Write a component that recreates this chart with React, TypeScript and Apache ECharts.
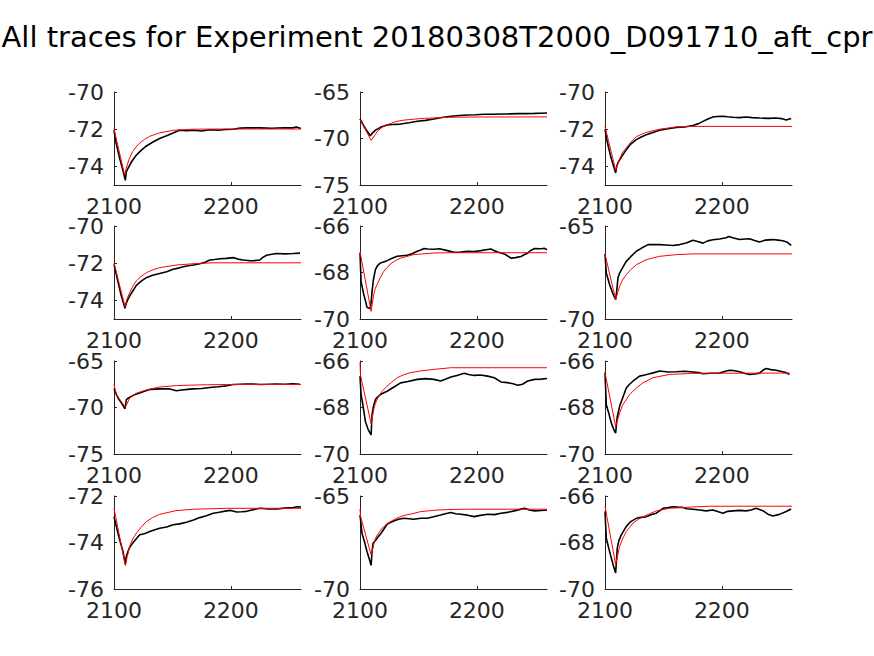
import React, { useEffect, useRef } from "react";
import * as echarts from "echarts";

const TITLE = "All traces for Experiment 20180308T2000_D091710_aft_cpr";
const X_MIN = 2100;
const X_MAX = 2260;
const X_TICKS = [2100, 2200];

const yRanges: [number, number][] = [
  [-75, -70], [-75, -65], [-75, -70],
  [-75, -70], [-70, -66], [-70, -65],
  [-75, -65], [-70, -66], [-70, -66],
  [-76, -72], [-70, -65], [-70, -66],
];
const yTicks: number[][] = [
  [-74, -72, -70], [-75, -70, -65], [-74, -72, -70],
  [-74, -72, -70], [-70, -68, -66], [-70, -65],
  [-75, -70, -65], [-70, -68, -66], [-70, -68, -66],
  [-76, -74, -72], [-70, -65], [-70, -68, -66],
];

const black1 = [[2100,-72.05],[2102,-72.8],[2105,-73.6],[2108,-74.3],[2109.7,-74.75],[2110.5,-74.3],[2112,-74.1],[2115,-73.75],[2119,-73.4],[2123,-73.15],[2127.7,-72.9],[2133,-72.7],[2139,-72.5],[2145,-72.35],[2150.6,-72.2],[2156,-72.06],[2162,-72.08],[2168,-72.06],[2175,-72.1],[2182,-72.03],[2189,-72.06],[2196,-72.02],[2202,-72.0],[2208,-71.94],[2215,-71.92],[2225,-71.93],[2235,-71.95],[2245,-71.92],[2253,-71.93],[2256,-71.88],[2260,-71.96]];
const red1 = [[2100,-71.98],[2109,-74.45],[2110.5,-74.1],[2113,-73.6],[2116,-73.2],[2119,-72.95],[2122,-72.74],[2126,-72.55],[2130.6,-72.38],[2139,-72.2],[2150.6,-72.06],[2160,-72.02],[2168,-72.0],[2190,-71.99],[2260,-71.99]];

const black2 = [[2100,-67.9],[2103,-68.6],[2106,-69.2],[2108.9,-69.7],[2110,-69.5],[2113.2,-69.1],[2117.5,-68.8],[2123.2,-68.55],[2128,-68.5],[2134.7,-68.45],[2142,-68.3],[2149,-68.15],[2156,-68.05],[2163.3,-67.9],[2170,-67.75],[2177.7,-67.6],[2185,-67.52],[2192,-67.47],[2199,-67.44],[2206.3,-67.4],[2213,-67.4],[2220.6,-67.37],[2228,-67.35],[2235,-67.33],[2242,-67.32],[2249.3,-67.3],[2255,-67.28],[2260,-67.26]];
const red2 = [[2100,-67.95],[2109.5,-70.2],[2113,-69.6],[2115,-69.2],[2118,-68.9],[2121,-68.6],[2126,-68.4],[2130,-68.2],[2136,-68.05],[2141.5,-67.97],[2155,-67.83],[2177,-67.72],[2200,-67.69],[2260,-67.68]];

const black3 = [[2100,-72.0],[2102,-72.7],[2105,-73.5],[2109.1,-74.35],[2110,-74.0],[2111.1,-73.8],[2114,-73.5],[2118.2,-73.1],[2122,-72.8],[2126.8,-72.56],[2131,-72.42],[2135.3,-72.3],[2141,-72.18],[2146.7,-72.06],[2154,-71.98],[2161,-71.9],[2168,-71.88],[2175.2,-71.8],[2180,-71.7],[2183.8,-71.58],[2188,-71.45],[2192.3,-71.34],[2196,-71.32],[2200.9,-71.3],[2205,-71.33],[2209.4,-71.36],[2215,-71.38],[2220.8,-71.34],[2226,-71.38],[2232.2,-71.4],[2240,-71.42],[2246.4,-71.4],[2251,-71.43],[2255,-71.5],[2259.3,-71.42]];
const red3 = [[2100,-71.85],[2109.1,-74.2],[2112.5,-73.6],[2115,-73.25],[2118.2,-73.0],[2122,-72.7],[2126.8,-72.4],[2131,-72.28],[2135.3,-72.17],[2146.7,-72.0],[2161,-71.88],[2175.2,-71.85],[2260,-71.85]];

const black4 = [[2100,-72.06],[2103,-72.9],[2106,-73.7],[2109.4,-74.43],[2110.5,-74.15],[2112,-73.93],[2115,-73.6],[2119.1,-73.19],[2123,-72.98],[2127.7,-72.78],[2133,-72.65],[2139.1,-72.55],[2145,-72.46],[2150.6,-72.33],[2156,-72.25],[2162,-72.15],[2168,-72.1],[2173.4,-72.03],[2178,-71.95],[2182,-71.83],[2186,-71.8],[2190.6,-71.76],[2196,-71.74],[2202,-71.7],[2206,-71.78],[2210.6,-71.83],[2216.3,-71.87],[2220,-71.86],[2224.9,-71.83],[2227,-71.7],[2230.6,-71.57],[2235,-71.52],[2239.1,-71.48],[2246,-71.5],[2253.4,-71.48],[2259.1,-71.46]];
const red4 = [[2100,-71.98],[2109.4,-74.34],[2111,-73.95],[2113.4,-73.58],[2116,-73.25],[2119.1,-72.95],[2123,-72.72],[2127.7,-72.51],[2133,-72.36],[2139.1,-72.24],[2153,-72.1],[2167.7,-72.03],[2184.9,-71.98],[2260,-71.98]];

const black5 = [[2100,-67.16],[2100.9,-68.38],[2103,-68.9],[2104.6,-69.2],[2106,-69.5],[2107.4,-69.53],[2108.9,-69.55],[2109.5,-69.3],[2110.3,-68.81],[2111.5,-68.3],[2113.2,-67.88],[2115,-67.7],[2117.5,-67.59],[2120,-67.55],[2123.2,-67.49],[2127,-67.4],[2131.8,-67.3],[2136,-67.28],[2140.4,-67.26],[2145,-67.18],[2149,-67.09],[2152,-67.03],[2154.7,-66.97],[2158,-66.99],[2163.3,-67.0],[2168,-66.98],[2174.8,-67.06],[2180.5,-67.13],[2186,-67.12],[2192,-67.09],[2198,-67.1],[2203.4,-67.06],[2208,-67.02],[2212,-66.99],[2215,-67.07],[2217.8,-67.12],[2223.5,-67.2],[2229.2,-67.38],[2233,-67.36],[2237.8,-67.31],[2240,-67.25],[2243.6,-67.16],[2246,-67.05],[2249.3,-66.97],[2255,-66.98],[2258,-66.96],[2260,-67.02]];
const red5 = [[2100,-67.1],[2109.5,-69.67],[2111.7,-68.95],[2113,-68.7],[2114.6,-68.52],[2117,-68.25],[2120.3,-67.95],[2123,-67.8],[2126,-67.63],[2130,-67.5],[2134.7,-67.38],[2146,-67.23],[2163.3,-67.16],[2177,-67.15],[2260,-67.15]];

const black6 = [[2100,-66.5],[2101.1,-67.53],[2104,-68.16],[2106.5,-68.6],[2109.1,-68.96],[2110,-68.5],[2111.1,-67.8],[2112.5,-67.53],[2115,-67.25],[2118.2,-66.9],[2122,-66.65],[2126.8,-66.36],[2131,-66.2],[2136.8,-66.0],[2141,-66.0],[2146.7,-66.0],[2152,-66.02],[2158.1,-66.05],[2164,-66.0],[2169.5,-65.91],[2175.2,-65.77],[2180,-65.85],[2183.8,-65.92],[2188,-65.8],[2192.3,-65.74],[2198,-65.7],[2203.7,-65.63],[2206,-65.56],[2210,-65.64],[2215.1,-65.73],[2220,-65.7],[2223.6,-65.69],[2228,-65.78],[2232.2,-65.86],[2237,-65.76],[2243.6,-65.73],[2248,-65.76],[2252.1,-65.79],[2256,-65.88],[2259.3,-66.04]];
const red6 = [[2100,-66.5],[2109.1,-68.96],[2112.5,-68.24],[2115,-67.9],[2118.2,-67.62],[2122,-67.35],[2126.8,-67.08],[2131,-66.95],[2135.3,-66.81],[2146.7,-66.63],[2161,-66.54],[2175.2,-66.5],[2260,-66.5]];

const black7 = [[2100,-67.96],[2102,-68.6],[2104,-69.1],[2106.3,-69.5],[2108,-69.85],[2109.4,-70.13],[2110.6,-69.15],[2112,-69.0],[2114.9,-68.8],[2118,-68.6],[2122,-68.43],[2126,-68.25],[2130.6,-68.07],[2135,-68.02],[2139.1,-68.0],[2143,-67.98],[2147.7,-68.0],[2153.4,-68.2],[2158,-68.12],[2163,-68.05],[2167.7,-68.0],[2175,-67.95],[2182,-67.85],[2189,-67.77],[2196.3,-67.67],[2202,-67.53],[2208,-67.5],[2213.4,-67.48],[2219,-67.47],[2224.9,-67.53],[2232,-67.5],[2239.1,-67.48],[2246,-67.5],[2253,-67.46],[2259.1,-67.5]];
const red7 = [[2100,-67.53],[2102,-68.6],[2109.7,-69.98],[2113.4,-69.0],[2116,-68.75],[2119.1,-68.47],[2123,-68.3],[2127.7,-68.11],[2133,-67.95],[2139.1,-67.8],[2153.4,-67.64],[2173.4,-67.57],[2196.3,-67.53],[2260,-67.53]];

const black8 = [[2100,-66.65],[2100.9,-67.44],[2102.5,-67.9],[2104.6,-68.6],[2107,-68.95],[2109.5,-69.18],[2110.3,-68.31],[2111.5,-67.95],[2113.2,-67.66],[2115,-67.55],[2117.5,-67.44],[2120,-67.38],[2123.2,-67.3],[2128,-67.15],[2134.7,-66.94],[2141,-66.88],[2149,-66.79],[2156,-66.76],[2163.3,-66.79],[2169,-66.86],[2173,-66.78],[2177.7,-66.69],[2183,-66.62],[2189.1,-66.53],[2193,-66.58],[2197.7,-66.62],[2203,-66.6],[2209.2,-66.65],[2214.9,-66.72],[2220.6,-66.9],[2226,-66.93],[2231,-66.98],[2235,-67.04],[2239,-67.0],[2243.6,-66.86],[2249.3,-66.79],[2255,-66.78],[2260,-66.75]];
const red8 = [[2100,-66.05],[2100.4,-66.6],[2109.5,-68.7],[2111.7,-68.1],[2113,-67.85],[2115.8,-67.52],[2119,-67.3],[2123.2,-67.08],[2127,-66.92],[2131.8,-66.72],[2137,-66.6],[2143.3,-66.5],[2153,-66.42],[2163.3,-66.36],[2177.7,-66.29],[2260,-66.29]];

const black9 = [[2100,-66.5],[2101.1,-67.88],[2103,-68.2],[2105.4,-68.67],[2107.5,-68.95],[2109.1,-69.1],[2110.3,-68.45],[2112.5,-67.95],[2115,-67.6],[2118.2,-67.16],[2121,-67.0],[2123.9,-66.87],[2127,-66.75],[2129.6,-66.65],[2134,-66.6],[2138.2,-66.55],[2142,-66.5],[2146.7,-66.43],[2154,-66.47],[2161,-66.46],[2168,-66.44],[2175.2,-66.47],[2180,-66.5],[2183.8,-66.55],[2190,-66.53],[2198,-66.52],[2203,-66.44],[2206.6,-66.4],[2211,-66.42],[2215.1,-66.46],[2220,-66.54],[2223.6,-66.58],[2228,-66.56],[2232.2,-66.52],[2235,-66.4],[2237.9,-66.32],[2242,-66.37],[2246.4,-66.4],[2251,-66.45],[2255,-66.5],[2257.8,-66.58]];
const red9 = [[2100,-66.5],[2109.1,-68.82],[2112.5,-68.24],[2115,-67.9],[2118.2,-67.66],[2121,-67.45],[2123.9,-67.3],[2127,-67.15],[2132.5,-66.94],[2140.9,-66.72],[2155,-66.58],[2175.2,-66.53],[2258,-66.52]];

const black10 = [[2100,-72.89],[2101.5,-73.2],[2103.4,-73.6],[2105.5,-74.0],[2107.7,-74.39],[2109.7,-74.93],[2110.5,-74.6],[2111.4,-74.46],[2113,-74.25],[2114.9,-74.1],[2118,-73.9],[2122,-73.67],[2126,-73.62],[2130.6,-73.53],[2135,-73.45],[2139.1,-73.39],[2145,-73.33],[2150.6,-73.24],[2156,-73.2],[2162,-73.13],[2168,-73.03],[2173.4,-72.93],[2179,-72.85],[2184.9,-72.74],[2190,-72.7],[2196.3,-72.64],[2200,-72.62],[2204.9,-72.69],[2209,-72.68],[2213.4,-72.66],[2218,-72.6],[2224.9,-72.53],[2232,-72.56],[2239.1,-72.56],[2246,-72.52],[2253.4,-72.5],[2257,-72.46],[2260,-72.47]];
const red10 = [[2100,-72.53],[2109.7,-74.99],[2111.4,-74.6],[2113.4,-74.17],[2116,-73.85],[2119.1,-73.6],[2123,-73.35],[2127.7,-73.1],[2133,-72.93],[2139.1,-72.79],[2153,-72.63],[2167.7,-72.57],[2182,-72.55],[2196.3,-72.53],[2260,-72.53]];

const black11 = [[2100,-66.02],[2101.7,-67.0],[2104,-67.5],[2106,-67.98],[2108,-68.4],[2109.5,-68.73],[2110.3,-68.0],[2111.2,-67.54],[2113,-67.4],[2114.6,-67.27],[2118,-67.0],[2123.2,-66.52],[2126,-66.42],[2128.9,-66.34],[2133,-66.25],[2137.5,-66.2],[2142,-66.22],[2146.1,-66.25],[2152,-66.2],[2157.6,-66.2],[2163,-66.12],[2169.1,-66.02],[2173,-65.95],[2177.7,-65.89],[2182,-65.95],[2186.2,-65.98],[2192,-66.03],[2197.7,-66.11],[2203,-66.04],[2209.2,-65.98],[2215,-66.0],[2220.6,-65.93],[2226,-65.88],[2232.1,-65.8],[2237,-65.72],[2240.7,-65.66],[2245,-65.75],[2249.3,-65.8],[2255,-65.78],[2260,-65.75]];
const red11 = [[2100,-65.7],[2100.5,-66.1],[2109.5,-68.16],[2111,-67.8],[2113.2,-67.27],[2116,-66.98],[2118.9,-66.73],[2123,-66.5],[2126,-66.38],[2131,-66.2],[2137.5,-66.05],[2145,-65.95],[2151.9,-65.84],[2165,-65.76],[2174.8,-65.73],[2192,-65.71],[2260,-65.71]];

const black12 = [[2100,-66.67],[2101.1,-67.81],[2103,-68.2],[2105.4,-68.67],[2107.5,-69.05],[2109.1,-69.31],[2110.5,-68.24],[2112,-67.9],[2114,-67.67],[2116,-67.5],[2118.2,-67.31],[2122,-67.1],[2126.8,-66.96],[2131,-66.92],[2135.3,-66.89],[2140,-66.8],[2143.9,-66.74],[2147,-66.63],[2149.6,-66.53],[2154,-66.5],[2158.1,-66.46],[2162,-66.48],[2166.7,-66.49],[2170,-66.55],[2175.2,-66.57],[2181,-66.6],[2186.6,-66.64],[2192.3,-66.6],[2197,-66.68],[2200.9,-66.74],[2205,-66.66],[2209.4,-66.64],[2215,-66.62],[2220.8,-66.64],[2225,-66.6],[2229.3,-66.53],[2235,-66.63],[2240,-66.8],[2243.6,-66.86],[2249.3,-66.79],[2255,-66.67],[2259.3,-66.56]];
const red12 = [[2100,-66.43],[2109.1,-68.96],[2112.5,-68.17],[2115,-67.85],[2118.2,-67.53],[2121,-67.35],[2123.9,-67.17],[2128,-67.02],[2132.5,-66.89],[2143.9,-66.64],[2155,-66.53],[2175.2,-66.47],[2190,-66.44],[2260,-66.44]];

const blackTraces = [black1, black2, black3, black4, black5, black6, black7, black8, black9, black10, black11, black12];
const redFits = [red1, red2, red3, red4, red5, red6, red7, red8, red9, red10, red11, red12];

const GRID_LEFTS = [114, 360, 605];
const GRID_TOPS = [92, 226, 361, 496];
const GRID_W = 187;
const GRID_H = 93;
const FONT = "DejaVu Sans";
const TEXT_COLOR = "#262626";

export default function App() {
  const ref = useRef<HTMLDivElement>(null);
  useEffect(() => {
    if (!ref.current) return;
    const chart = echarts.init(ref.current, undefined, { renderer: "svg" });
    const grids: any[] = [];
    const xAxes: any[] = [];
    const yAxes: any[] = [];
    const series: any[] = [];
    const fmt = (v: number) => String(v);
    for (let i = 0; i < 12; i++) {
      const r = Math.floor(i / 3);
      const c = i % 3;
      grids.push({ left: GRID_LEFTS[c], top: GRID_TOPS[r], width: GRID_W, height: GRID_H, containLabel: false });
      const axisCommon = {
        axisLine: { show: true, onZero: false, lineStyle: { color: TEXT_COLOR, width: 1 } },
        splitLine: { show: false },
      };
      const labelCommon = { color: TEXT_COLOR, fontFamily: FONT, fontSize: 22, lineHeight: 16, formatter: fmt };
      xAxes.push({
        type: "value",
        gridIndex: i,
        min: X_MIN,
        max: X_MAX,
        ...axisCommon,
        axisTick: { show: true, inside: true, length: 3, lineStyle: { color: TEXT_COLOR }, customValues: X_TICKS },
        axisLabel: { ...labelCommon, margin: 13, customValues: X_TICKS },
      });
      yAxes.push({
        type: "value",
        gridIndex: i,
        min: yRanges[i][0],
        max: yRanges[i][1],
        ...axisCommon,
        axisTick: { show: true, inside: true, length: 3, lineStyle: { color: TEXT_COLOR }, customValues: yTicks[i] },
        axisLabel: { ...labelCommon, margin: 10, customValues: yTicks[i] },
      });
      series.push({
        type: "line",
        xAxisIndex: i,
        yAxisIndex: i,
        data: blackTraces[i],
        symbol: "none",
        showSymbol: false,
        lineStyle: { color: "#000000", width: 1.6 },
        z: 2,
      });
      series.push({
        type: "line",
        xAxisIndex: i,
        yAxisIndex: i,
        data: redFits[i],
        symbol: "none",
        showSymbol: false,
        lineStyle: { color: "#ff0000", width: 1 },
        z: 3,
      });
    }
    chart.setOption({
      animation: false,
      backgroundColor: "#ffffff",
      title: {
        text: TITLE,
        left: "center",
        top: 17,
        textStyle: { fontFamily: FONT, fontSize: 29, fontWeight: "normal", color: "#000000" },
      },
      grid: grids,
      xAxis: xAxes,
      yAxis: yAxes,
      series,
    });
    return () => chart.dispose();
  }, []);
  return (
    <div
      ref={ref}
      style={{ position: "fixed", left: 0, top: 0, width: 874, height: 656, background: "#fff" }}
    />
  );
}
